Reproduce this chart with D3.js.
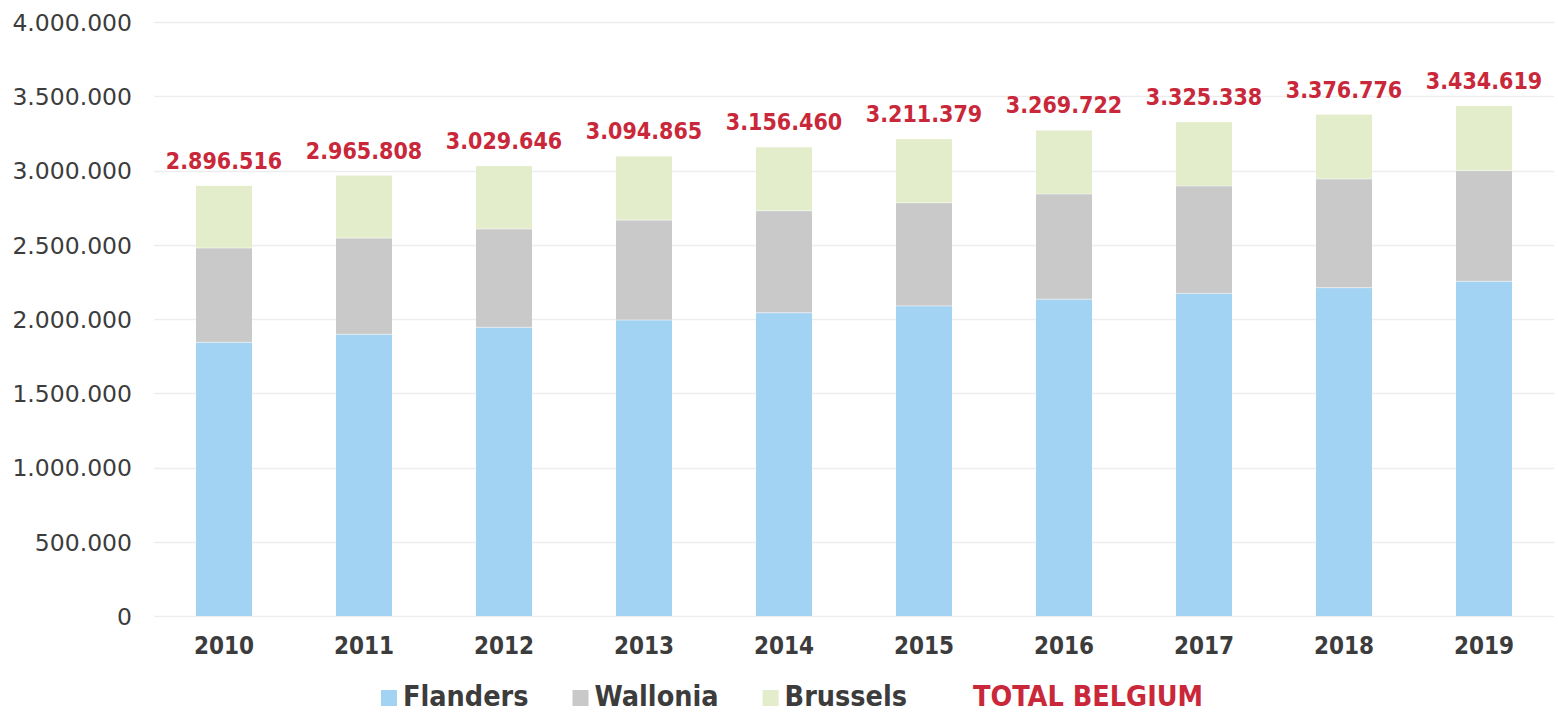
<!DOCTYPE html>
<html>
<head>
<meta charset="utf-8">
<script src="https://cdn.jsdelivr.net/npm/d3@7"></script>
<style>
  html, body { margin: 0; padding: 0; background: #fff; }
  svg { display: block; }
</style>
</head>
<body>
<svg id="chart" width="1558" height="713"></svg>
<script>
const years = ["2010","2011","2012","2013","2014","2015","2016","2017","2018","2019"];
const flanders = [1843000,1897000,1944000,1993000,2042000,2088000,2133000,2173000,2211000,2254000];
const wallonia = [635000,648000,662000,673000,687000,694000,709000,723000,732000,745000];
const brussels = [418516,420808,423646,428865,427460,429379,427722,429338,433776,435619];
const totals = [2896516,2965808,3029646,3094865,3156460,3211379,3269722,3325338,3376776,3434619];
const yTicks = [0,500000,1000000,1500000,2000000,2500000,3000000,3500000,4000000];
const seriesNames = ["Flanders","Wallonia","Brussels"];
const seriesColors = ["#A3D3F2","#C9C9C9","#E3EDCB"];
const totalName = "TOTAL BELGIUM";

const RED = "#C9283A";
const TEXT = "#3c3c3c";

const svg = d3.select("#chart");
const loc = d3.formatLocale({decimal: ",", thousands: ".", grouping: [3], currency: ["", "€"]});
const fmt = loc.format(",d");

const x = d3.scaleBand().domain(years).range([154, 1554]).paddingInner(0.6).paddingOuter(0.3);
const y = d3.scaleLinear().domain([0, 4000000]).range([616, 22]);

// gridlines
svg.append("g").selectAll("line").data(yTicks).join("line")
  .attr("x1", 154).attr("x2", 1554)
  .attr("y1", d => Math.round(y(d)) + 0.5).attr("y2", d => Math.round(y(d)) + 0.5)
  .attr("stroke", "#EDEDED").attr("stroke-width", 1.5);

// y axis labels
const yAxis = d3.axisLeft(y).tickValues(yTicks).tickFormat(fmt).tickSize(0).tickPadding(0);
const gy = svg.append("g").attr("transform", "translate(132,0)").call(yAxis);
gy.select(".domain").remove();
gy.selectAll("text")
  .attr("fill", TEXT)
  .style("font-family", "'DejaVu Sans', Verdana, sans-serif")
  .style("font-size", "23.5px")
  .attr("dy", "0.36em");

// stacked data
const rows = years.map((yr, i) => ({year: yr, Flanders: flanders[i], Wallonia: wallonia[i], Brussels: brussels[i]}));
const stack = d3.stack().keys(seriesNames)(rows);
const color = d3.scaleOrdinal().domain(seriesNames).range(seriesColors);

svg.append("g").selectAll("g").data(stack).join("g")
  .attr("fill", d => color(d.key))
  .selectAll("rect").data(d => d).join("rect")
  .attr("x", d => x(d.data.year))
  .attr("width", x.bandwidth())
  .attr("y", d => y(d[1]))
  .attr("height", d => y(d[0]) - y(d[1]));

// thin separators between segments
svg.append("g").selectAll("g").data(stack.slice(0, 2)).join("g")
  .selectAll("line").data(d => d).join("line")
  .attr("x1", d => x(d.data.year)).attr("x2", d => x(d.data.year) + x.bandwidth())
  .attr("y1", d => y(d[1])).attr("y2", d => y(d[1]))
  .attr("stroke", "#ffffff").attr("stroke-opacity", 0.5).attr("stroke-width", 1);

const boldFont = "'DejaVu Sans Condensed', 'DejaVu Sans', sans-serif";

// total labels
svg.append("g").selectAll("text").data(years).join("text")
  .attr("x", d => x(d) + x.bandwidth() / 2)
  .attr("y", (d, i) => y(totals[i]) - 17)
  .attr("text-anchor", "middle")
  .attr("fill", RED)
  .style("font-family", boldFont)
  .style("font-stretch", "condensed")
  .style("font-weight", "bold")
  .style("font-size", "23px")
  .text((d, i) => fmt(totals[i]));

// x axis labels
const xAxis = d3.axisBottom(x).tickSize(0).tickPadding(0);
const gx = svg.append("g").attr("transform", "translate(0,654)").call(xAxis);
gx.select(".domain").remove();
gx.selectAll("text")
  .attr("dy", 0)
  .attr("fill", TEXT)
  .style("font-family", boldFont)
  .style("font-stretch", "condensed")
  .style("font-weight", "bold")
  .style("font-size", "24px");

// legend
const legendItems = seriesNames.map((n, i) => ({name: n, color: seriesColors[i], text: TEXT}))
  .concat([{name: totalName, color: null, text: RED}]);
const lg = svg.append("g");
const items = lg.selectAll("g").data(legendItems).join("g");
items.append("rect")
  .attr("width", 16).attr("height", 16).attr("y", 690)
  .attr("fill", d => d.color || "none");
items.append("text")
  .attr("x", 22).attr("y", 706)
  .attr("fill", d => d.text)
  .style("font-family", boldFont)
  .style("font-stretch", "condensed")
  .style("font-weight", "bold")
  .style("font-size", "28.5px")
  .text(d => d.name);
let cx = 0;
const offs = [];
items.each(function() {
  offs.push(cx);
  const w = d3.select(this).select("text").node().getComputedTextLength();
  cx += 22 + w + 44;
});
const totalW = cx - 44;
const startX = 792 - totalW / 2;
items.attr("transform", (d, i) => `translate(${startX + offs[i]},0)`);
</script>
</body>
</html>
